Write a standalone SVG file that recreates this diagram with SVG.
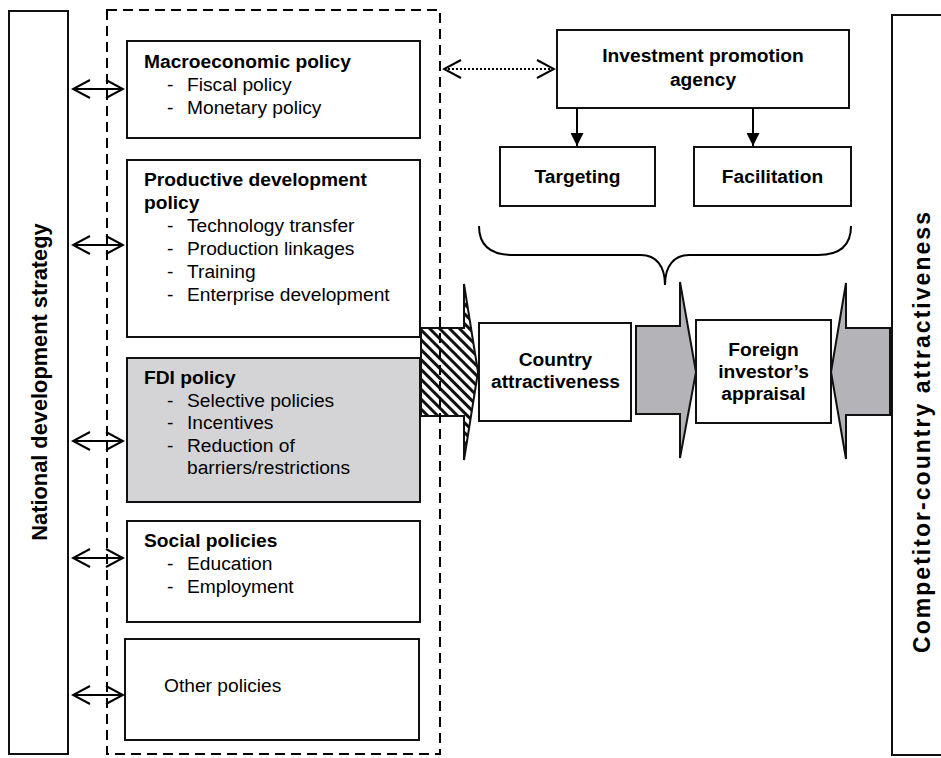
<svg xmlns="http://www.w3.org/2000/svg" width="941" height="758" viewBox="0 0 941 758">
<style>
text{font-family:"Liberation Sans",Arial,sans-serif;font-size:19.2px;fill:#000}
.b{font-weight:bold}
.c{text-anchor:middle}
.box{fill:#fff;stroke:#111;stroke-width:2}
.ln{fill:none;stroke:#000;stroke-width:2}
.gray{fill:#b4b4b8;stroke:#111;stroke-width:2;stroke-linejoin:miter}
</style>
<defs>
<pattern id="hatch" width="7" height="7" patternUnits="userSpaceOnUse" patternTransform="rotate(-45)">
<rect width="7" height="7" fill="#fff"/>
<rect x="0" y="0" width="3" height="7" fill="#111"/>
</pattern>
<marker id="open" viewBox="0 0 20 20" refX="18" refY="10" markerWidth="20" markerHeight="20" markerUnits="userSpaceOnUse" orient="auto-start-reverse">
<path d="M1,1 L18,10 L1,19" fill="none" stroke="#000" stroke-width="2"/>
</marker>
<marker id="fill" viewBox="0 0 14 13" refX="13" refY="6.5" markerWidth="14" markerHeight="13" markerUnits="userSpaceOnUse" orient="auto">
<path d="M0,0 L13,6.5 L0,13 Z" fill="#000"/>
</marker>
</defs>

<g id="national">
<rect class="box" x="9" y="11" width="59" height="743"/>
<text class="b c" style="font-size:21.8px" transform="translate(47,382) rotate(-90)">National development strategy</text>
</g>

<g id="competitor">
<rect class="box" x="892" y="15" width="70" height="740"/>
<text class="b c" style="font-size:23px" textLength="441" lengthAdjust="spacing" transform="translate(930,432.5) rotate(-90)">Competitor-country attractiveness</text>
</g>

<g id="macro">
<rect class="box" x="127" y="41" width="293" height="97"/>
<text class="b" x="144" y="67.5">Macroeconomic policy</text>
<text x="167" y="90.8">-</text><text x="187" y="90.8">Fiscal policy</text>
<text x="167" y="114">-</text><text x="187" y="114">Monetary policy</text>
</g>

<g id="productive">
<rect class="box" x="127" y="160" width="293" height="177"/>
<text class="b" x="144" y="186">Productive development</text>
<text class="b" x="144" y="209">policy</text>
<text x="167" y="232">-</text><text x="187" y="232">Technology transfer</text>
<text x="167" y="255">-</text><text x="187" y="255">Production linkages</text>
<text x="167" y="278">-</text><text x="187" y="278">Training</text>
<text x="167" y="301">-</text><text x="187" y="301">Enterprise development</text>
</g>

<g id="fdi">
<rect class="box" style="fill:#d4d4d6" x="127" y="358" width="293" height="144"/>
<text class="b" x="144" y="384">FDI policy</text>
<text x="167" y="406.5">-</text><text x="187" y="406.5">Selective policies</text>
<text x="167" y="429">-</text><text x="187" y="429">Incentives</text>
<text x="167" y="451.5">-</text><text x="187" y="451.5">Reduction of</text>
<text x="187" y="474">barriers/restrictions</text>
</g>

<g id="social">
<rect class="box" x="127" y="521" width="293" height="101"/>
<text class="b" x="144" y="547">Social policies</text>
<text x="167" y="570">-</text><text x="187" y="570">Education</text>
<text x="167" y="593">-</text><text x="187" y="593">Employment</text>
</g>

<g id="other">
<rect class="box" x="125" y="639" width="294" height="101"/>
<text x="164" y="692">Other policies</text>
</g>

<g id="fdi-arrow">
<path d="M421,328 L464,328 L464,284 L478,372 L464,460 L464,416 L421,416 Z" fill="url(#hatch)" stroke="#111" stroke-width="2"/>
</g>

<g id="policy-container">
<rect x="107" y="10" width="333" height="744" fill="none" stroke="#000" stroke-width="2" stroke-dasharray="10,6"/>
</g>

<g id="ipa">
<rect class="box" x="557" y="30" width="292" height="78"/>
<text class="b c" x="703" y="62.3">Investment promotion</text>
<text class="b c" x="703" y="86">agency</text>
</g>

<g id="targeting">
<rect class="box" x="500" y="147" width="155" height="59"/>
<text class="b c" x="577.5" y="183.3">Targeting</text>
</g>

<g id="facilitation">
<rect class="box" x="694" y="147" width="157" height="59"/>
<text class="b c" x="772.5" y="183.3">Facilitation</text>
</g>

<g id="country-arrow">
<path class="gray" d="M636,326 L680,326 L680,282 L696,372 L680,458 L680,414 L636,414 Z"/>
</g>

<g id="competitor-arrow">
<path class="gray" d="M890,328 L846,328 L846,283 L831,372 L846,459 L846,415 L890,415 Z"/>
</g>

<g id="country">
<rect class="box" x="479" y="323" width="152" height="98"/>
<text class="b c" x="555.5" y="365.5">Country</text>
<text class="b c" x="555.5" y="387.5">attractiveness</text>
</g>

<g id="appraisal">
<rect class="box" x="696" y="320" width="135" height="103"/>
<text class="b c" x="763.5" y="355.5">Foreign</text>
<text class="b c" x="763.5" y="377.7">investor’s</text>
<text class="b c" x="763.5" y="400">appraisal</text>
</g>

<g id="connectors">
<line class="ln" x1="73" y1="89" x2="123" y2="89" marker-start="url(#open)" marker-end="url(#open)"/>
<line class="ln" x1="73" y1="245" x2="123" y2="245" marker-start="url(#open)" marker-end="url(#open)"/>
<line class="ln" x1="73" y1="441" x2="123" y2="441" marker-start="url(#open)" marker-end="url(#open)"/>
<line class="ln" x1="73" y1="558" x2="123" y2="558" marker-start="url(#open)" marker-end="url(#open)"/>
<line class="ln" x1="73" y1="695" x2="123" y2="695" marker-start="url(#open)" marker-end="url(#open)"/>
<line x1="444" y1="69" x2="554" y2="69" fill="none" stroke="#000" stroke-width="2" stroke-dasharray="2,2" marker-start="url(#open)" marker-end="url(#open)"/>
<line class="ln" x1="577" y1="108" x2="577" y2="146" marker-end="url(#fill)"/>
<line class="ln" x1="753" y1="108" x2="753" y2="146" marker-end="url(#fill)"/>
<path class="ln" d="M479,226 C479,245 490,255 513,255 L641,255 C656,255 665,266 665,285 C665,266 674,255 689,255 L818,255 C840,255 851,245 851,226"/>
</g>
</svg>
